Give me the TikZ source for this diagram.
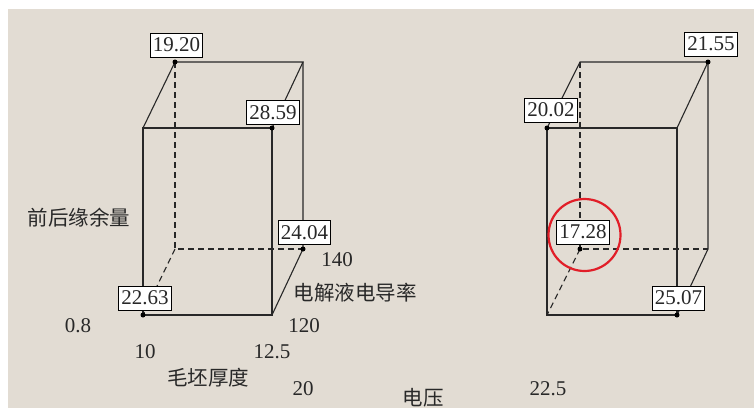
\documentclass[tikz,border=0pt]{standalone}
\usepackage{fontspec}
\setmainfont{Liberation Serif}
\newfontfamily\cjk{Noto Sans CJK SC}
\definecolor{bgbeige}{RGB}{226,220,211}
\definecolor{ink}{RGB}{40,40,40}
\definecolor{hilite}{RGB}{225,30,40}
\begin{document}
\begin{tikzpicture}[x=1pt,y=-1pt,
  edge/.style={draw=ink, line width=1.1pt},
  hidden/.style={edge, dash pattern=on 6pt off 4pt},
  val/.style={draw=black, fill=white, line width=0.8pt, inner xsep=2.5pt, inner ysep=0pt,
    minimum height=24pt, text=ink, font=\fontsize{21}{22}\selectfont},
  lbl/.style={inner sep=0pt, text=ink, font=\fontsize{21}{22}\selectfont},
  zh/.style={inner sep=0pt, text=ink, font=\cjk\fontsize{20.5}{22}\selectfont},
  dot/.style={circle, fill=black, inner sep=0pt, minimum size=5pt}]
\fill[white] (0,0) rectangle (754,413);
\fill[bgbeige] (8,9) rectangle (754,408);
\useasboundingbox (0,0) rectangle (754,413);
% left cube corners
\coordinate (a1) at (175,62);
\coordinate (a2) at (303,62);
\coordinate (a3) at (143,128);
\coordinate (a4) at (272,128);
\coordinate (a5) at (143,315);
\coordinate (a6) at (272,315);
\coordinate (a7) at (303,249);
\coordinate (a8) at (175,249);
% right cube corners
\coordinate (b1) at (580,62);
\coordinate (b2) at (708,62);
\coordinate (b3) at (547,128);
\coordinate (b4) at (677,128);
\coordinate (b5) at (547,315);
\coordinate (b6) at (677,315);
\coordinate (b7) at (708,249);
\coordinate (b8) at (580,249);
% hidden edges
\draw[hidden] (a1) -- (a8) -- (a7);
\draw[hidden] (a8) -- (a5);
\draw[hidden] (b1) -- (b8) -- (b7);
\draw[hidden] (b8) -- (b5);
% visible edges
\draw[edge] (a3) rectangle (a6);
\draw[edge] (a3) -- (a1) -- (a2) -- (a4);
\draw[edge] (a2) -- (a7) -- (a6);
\draw[edge] (b3) rectangle (b6);
\draw[edge] (b3) -- (b1) -- (b2) -- (b4);
\draw[edge] (b2) -- (b7) -- (b6);
% dots
\foreach \p in {a1,a4,a5,a7,b2,b3,b8,b6} \node[dot] at (\p) {};
% value labels
\node[val] (v1) at (176.5,45) {19.20};
\node[val] (v2) at (273,112.5) {28.59};
\node[val] (v3) at (145,298) {22.63};
\node[val] (v4) at (304.5,232.5) {24.04};
\node[val] (v5) at (711,44) {21.55};
\node[val] (v6) at (551,110) {20.02};
\node[val] (v7) at (583,232) {17.28};
\node[val] (v8) at (678.5,298) {25.07};
% axis labels
\node[zh] (t1) at (79,218) {前后缘余量};
\node[lbl] (t2) at (78,326) {0.8};
\node[lbl] (t3) at (145,352) {10};
\node[lbl] (t4) at (272,352) {12.5};
\node[zh] (t5) at (208,378) {毛坯厚度};
\node[lbl] (t6) at (303,389) {20};
\node[lbl] (t7) at (337,260) {140};
\node[zh] (t8) at (355,293) {电解液电导率};
\node[lbl] (t9) at (304,326) {120};
\node[zh] (t10) at (423,398) {电压};
\node[lbl] (t11) at (548,389) {22.5};
% highlight
\draw[hilite, line width=2.2pt] (584.5,235) circle (36);
\end{tikzpicture}
\end{document}
